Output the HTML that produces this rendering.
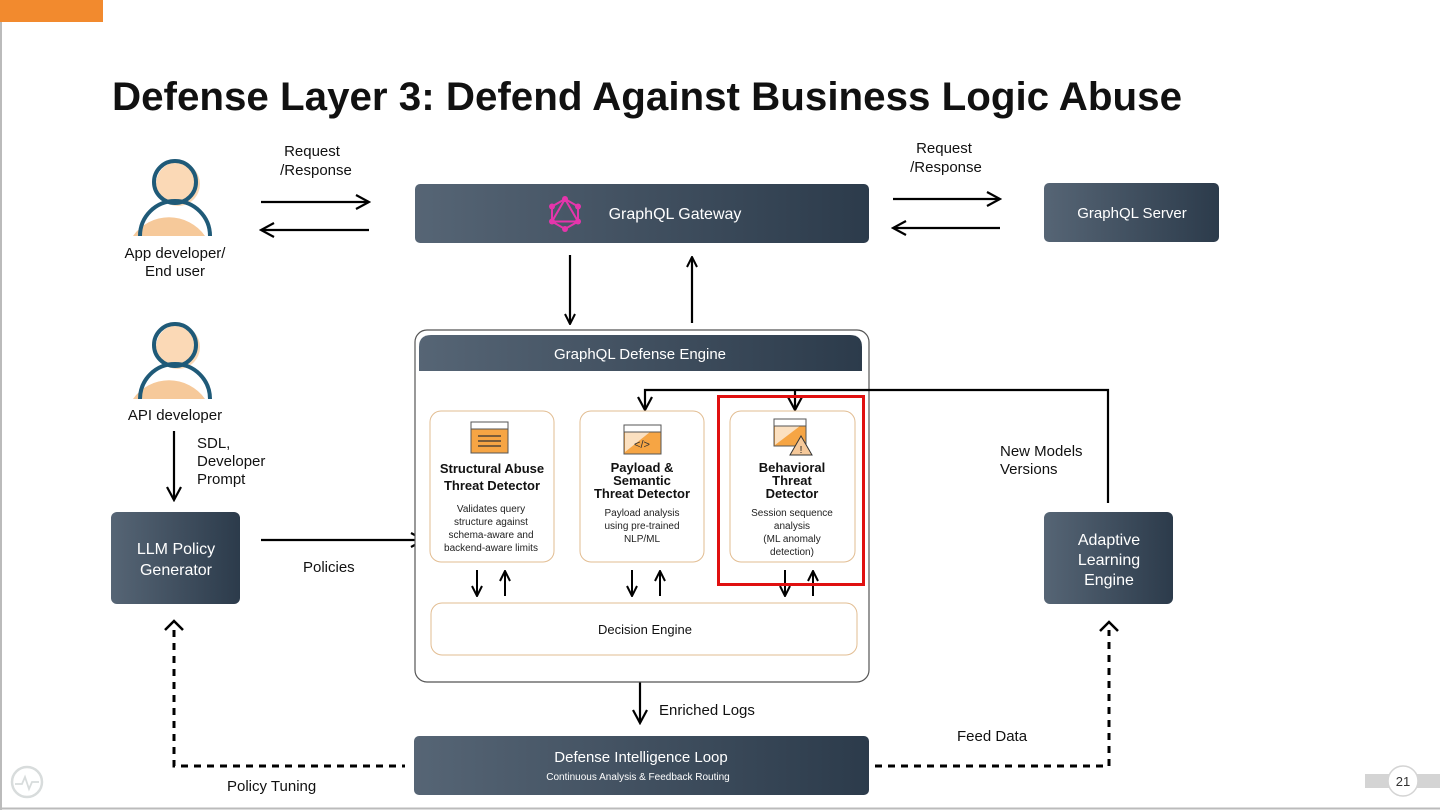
<!DOCTYPE html>
<html><head><meta charset="utf-8"><style>
html,body{margin:0;padding:0;background:#fff;}
svg{display:block;font-family:"Liberation Sans",sans-serif;}
</style></head><body>
<svg width="1440" height="810" viewBox="0 0 1440 810" xmlns="http://www.w3.org/2000/svg">
<defs>
<linearGradient id="g" x1="0" y1="0" x2="1" y2="0">
<stop offset="0" stop-color="#566575"/><stop offset="1" stop-color="#2c3b4b"/>
</linearGradient>
<marker id="ah" viewBox="0 0 12 12" refX="11" refY="6" markerWidth="12" markerHeight="12" markerUnits="userSpaceOnUse" orient="auto">
<path d="M1,1 L11,6 L1,11" fill="none" stroke="#000" stroke-width="2"/>
</marker>
<marker id="ah2" viewBox="0 0 16 16" refX="14" refY="8" markerWidth="16" markerHeight="16" markerUnits="userSpaceOnUse" orient="auto">
<path d="M1,1 L14,8 L1,15" fill="none" stroke="#000" stroke-width="2.2"/>
</marker>
</defs>
<rect x="0" y="0" width="1440" height="810" fill="#fff"/>
<line x1="1" y1="0" x2="1" y2="810" stroke="#bbb" stroke-width="2"/>
<line x1="0" y1="808.5" x2="1440" y2="808.5" stroke="#bbb" stroke-width="2"/>
<rect x="0" y="0" width="103" height="22" fill="#f28a2e"/>
<text x="112" y="110" font-size="40" font-weight="bold" fill="#111" textLength="1070" lengthAdjust="spacingAndGlyphs">Defense Layer 3:  Defend Against  Business Logic Abuse</text>

<!-- persons -->
<g>
<path d="M133,236 A44,44 0 0 1 205,236 Z" fill="#f6c99a"/>
<circle cx="178" cy="184" r="22" fill="#fbd9b6"/>
<circle cx="175" cy="182" r="21" fill="none" stroke="#1f5a78" stroke-width="4"/>
<path d="M140,236 A35,35 0 0 1 210,236" fill="none" stroke="#1f5a78" stroke-width="4"/>
</g>
<g transform="translate(0,163)">
<path d="M133,236 A44,44 0 0 1 205,236 Z" fill="#f6c99a"/>
<circle cx="178" cy="184" r="22" fill="#fbd9b6"/>
<circle cx="175" cy="182" r="21" fill="none" stroke="#1f5a78" stroke-width="4"/>
<path d="M140,236 A35,35 0 0 1 210,236" fill="none" stroke="#1f5a78" stroke-width="4"/>
</g>
<g font-size="15" fill="#111" text-anchor="middle">
<text x="175" y="258">App developer/</text>
<text x="175" y="276">End user</text>
<text x="175" y="420">API developer</text>
<text x="312" y="156">Request</text>
<text x="316" y="175">/Response</text>
<text x="944" y="153">Request</text>
<text x="946" y="172">/Response</text>
</g>
<g font-size="15" fill="#111">
<text x="197" y="448">SDL,</text>
<text x="197" y="466">Developer</text>
<text x="197" y="484">Prompt</text>
<text x="303" y="572">Policies</text>
<text x="1000" y="456">New Models</text>
<text x="1000" y="474">Versions</text>
<text x="659" y="715">Enriched Logs</text>
<text x="957" y="741">Feed Data</text>
<text x="227" y="791">Policy Tuning</text>
</g>

<!-- arrows top -->
<g stroke="#000" stroke-width="2.2" fill="none">
<line x1="261" y1="202" x2="369" y2="202" marker-end="url(#ah2)"/>
<line x1="369" y1="230" x2="261" y2="230" marker-end="url(#ah2)"/>
<line x1="893" y1="199" x2="1000" y2="199" marker-end="url(#ah2)"/>
<line x1="1000" y1="228" x2="893" y2="228" marker-end="url(#ah2)"/>
<line x1="570" y1="255" x2="570" y2="324" marker-end="url(#ah)"/>
<line x1="692" y1="323" x2="692" y2="257" marker-end="url(#ah)"/>
<line x1="174" y1="431" x2="174" y2="500" marker-end="url(#ah2)"/>
<line x1="261" y1="540" x2="424" y2="540" marker-end="url(#ah2)"/>
<line x1="640" y1="662" x2="640" y2="723" marker-end="url(#ah2)"/>
</g>
<g stroke="#000" stroke-width="3" fill="none" stroke-dasharray="7,6">
<polyline points="174,630 174,766 405,766"/>
<polyline points="875,766 1109,766 1109,630"/>
</g>
<g stroke="#000" stroke-width="2.5" fill="none">
<polyline points="165,630 174,621 183,630"/>
<polyline points="1100,631 1109,622 1118,631"/>
</g>

<!-- dark boxes -->
<rect x="415" y="184" width="454" height="59" rx="5" fill="url(#g)"/>
<g transform="translate(565,214)" fill="#e535ab" stroke="#e535ab">
<polygon points="0,-15 13,-7.5 13,7.5 0,15 -13,7.5 -13,-7.5" fill="none" stroke-width="2"/>
<polygon points="0,-15 13,7.5 -13,7.5" fill="none" stroke-width="2"/>
<circle cx="0" cy="-15" r="3" stroke="none"/><circle cx="13" cy="-7.5" r="3" stroke="none"/><circle cx="13" cy="7.5" r="3" stroke="none"/>
<circle cx="0" cy="15" r="3" stroke="none"/><circle cx="-13" cy="7.5" r="3" stroke="none"/><circle cx="-13" cy="-7.5" r="3" stroke="none"/>
</g>
<text x="675" y="219" font-size="16" fill="#fff" text-anchor="middle">GraphQL Gateway</text>
<rect x="1044" y="183" width="175" height="59" rx="5" fill="url(#g)"/>
<text x="1132" y="218" font-size="15" fill="#fff" text-anchor="middle">GraphQL Server</text>
<rect x="111" y="512" width="129" height="92" rx="6" fill="url(#g)"/>
<text x="176" y="554" font-size="16" fill="#fff" text-anchor="middle">LLM Policy</text>
<text x="176" y="575" font-size="16" fill="#fff" text-anchor="middle">Generator</text>
<rect x="1044" y="512" width="129" height="92" rx="6" fill="url(#g)"/>
<text x="1109" y="545" font-size="16" fill="#fff" text-anchor="middle">Adaptive</text>
<text x="1109" y="565" font-size="16" fill="#fff" text-anchor="middle">Learning</text>
<text x="1109" y="585" font-size="16" fill="#fff" text-anchor="middle">Engine</text>
<rect x="414" y="736" width="455" height="59" rx="5" fill="url(#g)"/>
<text x="641" y="762" font-size="15" fill="#fff" text-anchor="middle">Defense Intelligence Loop</text>
<text x="638" y="780" font-size="10" fill="#fff" text-anchor="middle">Continuous Analysis &amp; Feedback Routing</text>

<!-- engine container -->
<rect x="415" y="330" width="454" height="352" rx="12" fill="#fff" stroke="#555" stroke-width="1.2"/>
<path d="M419,371 L419,347 Q419,335 431,335 L850,335 Q862,335 862,347 L862,371 Z" fill="url(#g)"/>
<text x="640" y="359" font-size="15" fill="#fff" text-anchor="middle">GraphQL Defense Engine</text>

<g stroke="#000" stroke-width="2.2" fill="none">
<polyline points="1108,503 1108,390 645,390 645,410" marker-end="url(#ah2)"/>
<line x1="795" y1="390" x2="795" y2="410" marker-end="url(#ah2)"/>
</g>

<g fill="#fff" stroke="#e2bd92" stroke-width="1">
<rect x="430" y="411" width="124" height="151" rx="11"/>
<rect x="580" y="411" width="124" height="151" rx="11"/>
<rect x="730" y="411" width="125" height="151" rx="11"/>
<rect x="431" y="603" width="426" height="52" rx="11"/>
</g>
<!-- icons -->
<g>
<rect x="471" y="422" width="37" height="31" fill="#f6a544" stroke="#555" stroke-width="1"/>
<rect x="471" y="422" width="37" height="7" fill="#fff" stroke="#555" stroke-width="1"/>
<g stroke="#333" stroke-width="1.2"><line x1="478" y1="436" x2="501" y2="436"/><line x1="478" y1="441" x2="501" y2="441"/><line x1="478" y1="446" x2="501" y2="446"/></g>
<rect x="624" y="425" width="37" height="29" fill="#f6a544" stroke="#555" stroke-width="1"/>
<polygon points="625,432 650,432 625,452" fill="#fbe0c0"/>
<rect x="624" y="425" width="37" height="7" fill="#fff" stroke="#555" stroke-width="1"/>
<text x="642" y="448" font-size="11" text-anchor="middle" fill="#333">&lt;/&gt;</text>
<rect x="774" y="419" width="32" height="27" fill="#f6a544" stroke="#555" stroke-width="1"/>
<polygon points="775,426 800,426 775,445" fill="#fbe0c0"/>
<rect x="774" y="419" width="32" height="7" fill="#fff" stroke="#555" stroke-width="1"/>
<polygon points="801,436 812,455 790,455" fill="#f6c99a" stroke="#333" stroke-width="1"/>
<text x="801" y="453" font-size="10" text-anchor="middle" fill="#222">!</text>
</g>
<g font-size="13" font-weight="bold" fill="#111" text-anchor="middle">
<text x="492" y="473">Structural Abuse</text>
<text x="492" y="490">Threat Detector</text>
<text x="642" y="472">Payload &amp;</text>
<text x="642" y="485">Semantic</text>
<text x="642" y="498">Threat Detector</text>
<text x="792" y="472">Behavioral</text>
<text x="792" y="485">Threat</text>
<text x="792" y="498">Detector</text>
</g>
<g font-size="10" fill="#222" text-anchor="middle">
<text x="491" y="512">Validates query</text>
<text x="491" y="525">structure against</text>
<text x="491" y="538">schema-aware and</text>
<text x="491" y="551">backend-aware limits</text>
<text x="642" y="516">Payload analysis</text>
<text x="642" y="529">using pre-trained</text>
<text x="642" y="542">NLP/ML</text>
<text x="792" y="516">Session sequence</text>
<text x="792" y="529">analysis</text>
<text x="792" y="542">(ML anomaly</text>
<text x="792" y="555">detection)</text>
</g>
<text x="645" y="634" font-size="13" fill="#111" text-anchor="middle">Decision Engine</text>
<g stroke="#000" stroke-width="2" fill="none">
<line x1="477" y1="570" x2="477" y2="596" marker-end="url(#ah)"/>
<line x1="505" y1="596" x2="505" y2="571" marker-end="url(#ah)"/>
<line x1="632" y1="570" x2="632" y2="596" marker-end="url(#ah)"/>
<line x1="660" y1="596" x2="660" y2="571" marker-end="url(#ah)"/>
<line x1="785" y1="570" x2="785" y2="596" marker-end="url(#ah)"/>
<line x1="813" y1="596" x2="813" y2="571" marker-end="url(#ah)"/>
</g>
<rect x="718.5" y="396.5" width="145" height="188" fill="none" stroke="#e01010" stroke-width="3"/>

<!-- footer -->
<circle cx="27" cy="782" r="15" fill="none" stroke="#d8dcdc" stroke-width="2.5"/>
<polyline points="15,784 22,784 25,777 29,789 32,782 39,782" fill="none" stroke="#d8dcdc" stroke-width="1.8"/>
<rect x="1365" y="774" width="75" height="14" fill="#d4d4d4"/>
<circle cx="1403" cy="781" r="15" fill="#fff" stroke="#d4d4d4" stroke-width="1.5"/>
<text x="1403" y="786" font-size="13" fill="#333" text-anchor="middle">21</text>
</svg>
</body></html>
